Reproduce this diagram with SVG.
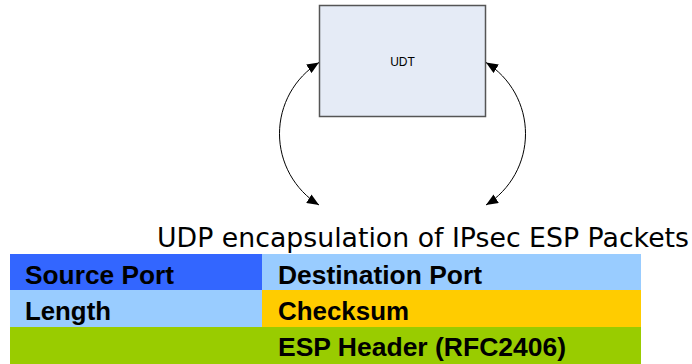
<svg xmlns="http://www.w3.org/2000/svg" width="692" height="364" viewBox="0 0 692 364">
  <style>
    .box { fill: #E5EBF6; stroke: #555555; stroke-width: 1.5; }
    .boxlabel { font-family: "Liberation Sans", Arial, sans-serif; font-size: 12px; fill: #000; text-anchor: middle; }
    .conn { fill: none; stroke: #000; stroke-width: 1; }
    .title { font-family: "DejaVu Sans", Verdana, sans-serif; font-size: 26px; fill: #000; }
    .cell { font-family: "Liberation Sans", Arial, sans-serif; font-size: 26px; font-weight: bold; fill: #000; }
  </style>
  <defs>
    <marker id="arrow" viewBox="0 0 12 10" refX="12" refY="5" markerWidth="12" markerHeight="10" markerUnits="userSpaceOnUse" orient="auto-start-reverse">
      <path d="M0,0 L12,5 L0,10 Z" fill="#000"/>
    </marker>
  </defs>

  <g id="udt">
    <rect class="box" x="319.5" y="5.5" width="166" height="111"/>
    <text class="boxlabel" x="402.5" y="66">UDT</text>
  </g>

  <g id="connectors">
    <path class="conn" d="M319,62.5 A84,84 0 0 0 319,205" marker-start="url(#arrow)" marker-end="url(#arrow)"/>
    <path class="conn" d="M486,62.5 A84,84 0 0 1 486,205" marker-start="url(#arrow)" marker-end="url(#arrow)"/>
  </g>

  <g id="title">
    <text class="title" x="157" y="247" textLength="532" lengthAdjust="spacingAndGlyphs">UDP encapsulation of IPsec ESP Packets</text>
  </g>

  <g id="source-port">
    <rect x="10" y="254" width="252" height="36" fill="#3366FF"/>
    <text class="cell" x="25" y="284" textLength="149" lengthAdjust="spacingAndGlyphs">Source Port</text>
  </g>
  <g id="destination-port">
    <rect x="262" y="254" width="379" height="36" fill="#99CCFF"/>
    <text class="cell" x="278" y="284" textLength="204" lengthAdjust="spacingAndGlyphs">Destination Port</text>
  </g>
  <g id="length">
    <rect x="10" y="290" width="252" height="37" fill="#99CCFF"/>
    <text class="cell" x="25" y="320" textLength="86" lengthAdjust="spacingAndGlyphs">Length</text>
  </g>
  <g id="checksum">
    <rect x="262" y="290" width="379" height="37" fill="#FFCC00"/>
    <text class="cell" x="278" y="320" textLength="131" lengthAdjust="spacingAndGlyphs">Checksum</text>
  </g>
  <g id="esp-header">
    <rect x="10" y="327" width="631" height="37" fill="#99CC00"/>
    <text class="cell" x="278" y="356" textLength="288" lengthAdjust="spacingAndGlyphs">ESP Header (RFC2406)</text>
  </g>
</svg>
